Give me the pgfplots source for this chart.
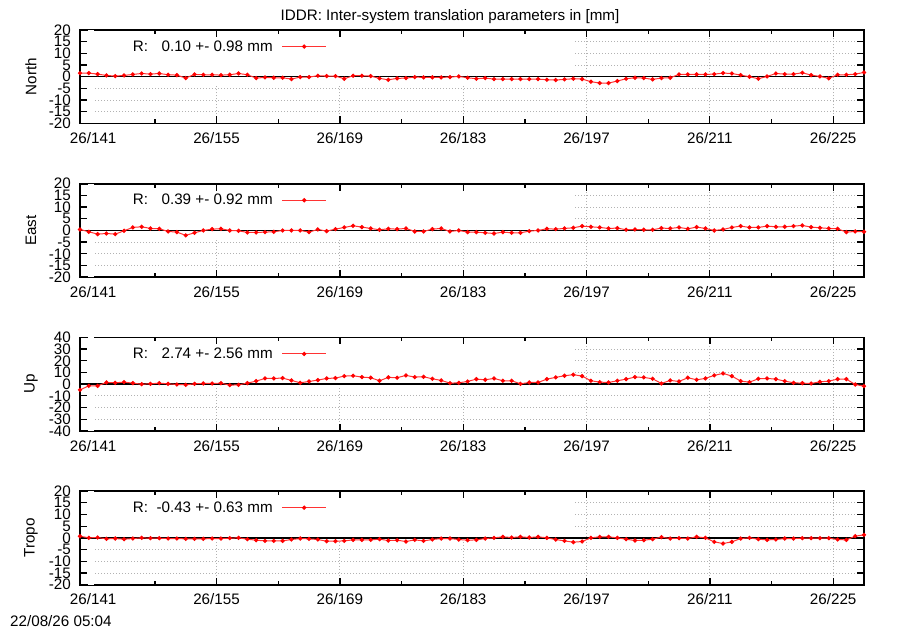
\documentclass[border=0pt]{standalone}
\usepackage{fontspec}
\setmainfont{Liberation Sans}
\usepackage{pgfplots}
\pgfplotsset{compat=1.18}
\usepackage{pgfplotstable}

\pgfplotstableread{
x N E U T
139.5 1.56 0.43 -4.9 0.71
140.5 1.56 -0.57 -1.44 0
141.5 1.13 -1.57 -1.44 0.14
142.5 0.57 -1.3 1.44 -0.43
143.5 0.28 -1.57 1.15 -0.29
144.5 0.57 -0.14 1.73 -0.57
145.5 1.0 1.3 0.86 -0.29
146.5 1.4 1.57 0 0
147.5 1.13 0.86 0.29 -0.14
148.5 1.4 0.71 0.86 -0.14
149.5 0.85 -0.43 0.29 -0.29
150.5 0.7 -0.71 -0.29 -0.29
151.5 -0.57 -2.1 -0.58 -0.43
152.5 1.0 -1.0 0.29 -0.43
153.5 0.85 0 0.58 -0.43
154.5 0.85 0.57 0.58 -0.29
155.5 0.7 0.71 0.86 -0.29
156.5 0.85 0 -0.86 -0.14
157.5 1.4 -0.14 -0.58 0
158.5 0.85 -0.86 0.86 -0.57
159.5 -0.57 -0.86 2.6 -1.0
160.5 -0.28 -0.71 4.9 -1.29
161.5 -0.43 -0.57 4.9 -1.29
162.5 -0.43 0 5.2 -1.29
163.5 -1.0 0 3.2 -0.71
164.5 -0.14 0 1.15 -0.29
165.5 -0.14 -0.71 2.3 -0.43
166.5 0.43 0.43 3.46 -0.71
167.5 0.28 -0.29 4.9 -1.43
168.5 0.28 0.57 5.2 -1.43
169.5 -0.85 1.3 6.9 -1.29
170.5 0.43 2.0 7.2 -0.86
171.5 0.43 1.43 6.05 -0.86
172.5 0.28 0.86 5.5 -0.86
173.5 -0.7 0.29 2.9 -0.57
174.5 -1.3 0.71 5.8 -1.14
175.5 -0.7 0.57 5.5 -1.0
176.5 -0.57 0.86 7.5 -1.57
177.5 -0.14 -0.43 6.05 -0.86
178.5 -0.28 -0.43 6.3 -1.29
179.5 -0.28 0.57 4.6 -0.71
180.5 -0.28 0.86 3.2 -0.29
181.5 -0.14 -0.43 0.86 -0.29
182.5 0.14 0 1.15 -0.71
183.5 -0.43 -0.71 2.3 -1.0
184.5 -0.85 -0.71 4.3 -0.86
185.5 -0.57 -1.0 3.75 -0.29
186.5 -1.0 -1.3 4.9 0
187.5 -1.0 -0.71 2.9 0.43
188.5 -1.0 -1.0 2.9 0.14
189.5 -1.0 -1.0 0.29 0.43
190.5 -1.0 -0.29 1.44 0.14
191.5 -1.0 0 1.44 0.43
192.5 -1.28 0.71 4.3 0
193.5 -1.4 0.57 5.8 -0.71
194.5 -1.13 0.86 7.2 -1.29
195.5 -0.85 1.14 8.1 -1.86
196.5 -1.0 1.86 6.9 -1.57
197.5 -2.1 1.57 2.9 0
198.5 -2.7 1.29 1.73 0.43
199.5 -2.7 0.86 1.44 0.43
200.5 -1.84 1.0 2.9 0
201.5 -0.85 0.29 4.3 -0.57
202.5 -0.43 0.43 6.05 -1.14
203.5 -0.57 0.29 5.8 -1.0
204.5 -1.13 0.29 4.6 -0.57
205.5 -0.57 1.0 0.58 0.29
206.5 -0.43 0.86 3.2 -0.29
207.5 1.0 1.29 2.3 -0.14
208.5 1.0 0.71 5.5 -0.29
209.5 1.0 1.43 3.75 0.43
210.5 1.0 0.86 4.9 0
211.5 1.13 0 7.5 -1.71
212.5 1.56 0.43 9.2 -2.43
213.5 1.4 1.29 6.9 -1.71
214.5 0.7 1.86 2.6 -0.29
215.5 0 1.29 1.73 0
216.5 -0.85 1.29 4.6 -0.57
217.5 0.14 1.86 4.9 -0.86
218.5 1.4 1.57 4.3 -0.71
219.5 1.13 1.57 2.6 -0.29
220.5 1.13 1.86 1.15 -0.29
221.5 1.7 2.14 0.86 -0.14
222.5 0.7 1.43 0.58 -0.14
223.5 0.14 1.14 2.0 -0.14
224.5 -0.7 0.86 2.6 -0.14
225.5 0.85 0.71 4.3 -0.71
226.5 0.85 -0.71 4.3 -0.86
227.5 1.13 -0.43 -0.29 0.71
228.5 1.84 -0.57 -1.73 1.29
}\data

\newcommand\gpfont{\fontsize{15.2bp}{17bp}\selectfont}

\pgfplotsset{
  gp/.style={
    scale only axis, width=784bp, height=93.5bp,
    anchor=north west,
    xmin=139.5, xmax=228.5,
    xtick={141,155,169,183,197,211,225},
    xticklabels={26/141,26/155,26/169,26/183,26/197,26/211,26/225},
    minor xtick={148,162,176,190,204,218},
    grid=major,
    major grid style={gray!60, line width=0.8bp, dash pattern=on 1bp off 2bp},
    axis line style={line width=1.8bp},
    major tick length=7bp, minor tick length=4bp,
    tick style={black, line width=1.3bp},
    tick align=inside,
    tick label style={font=\gpfont},
    label style={font=\gpfont},
    xticklabel style={inner sep=0pt, yshift=-9bp, anchor=north},
    yticklabel style={inner sep=0pt, xshift=-9bp, anchor=east},
    ylabel style={at={(axis description cs:-0.0625,0.5)}, anchor=center, inner sep=0pt},
    legend plot pos=right,
    legend style={at={(axis description cs:0.0676,0.823)}, anchor=west, draw=none, fill=none,
      inner sep=0pt, outer sep=0pt, font=\gpfont,
      nodes={inner sep=0pt, outer sep=0pt}, /tikz/column sep=9bp},
    legend image code/.code={\draw[mark repeat=2,mark phase=2,##1] plot coordinates {(0bp,0bp) (22bp,0bp) (44bp,0bp)};},
  },
  ser/.style={red!80, line width=1bp, mark=*, mark size=1.6bp, mark options={fill=red, draw=red, solid}},
  zl/.style={black, line width=1.5bp, forget plot},
  y20/.style={ymin=-20, ymax=20, ytick={-20,-15,...,20}, yticklabels={-20,-15,-10,-5,0,5,10,15,20}},
  y40/.style={ymin=-40, ymax=40, ytick={-40,-30,...,40}, yticklabels={-40,-30,-20,-10,0,10,20,30,40}},
}

\newcommand\gpmask[1]{%
    \fill[white] (rel axis cs:0.0096,0) rectangle (rel axis cs:0.0179,1);
    \fill[white] (rel axis cs:0.0096,#1) rectangle (rel axis cs:0.629,0.92);
}

\begin{document}
\begin{tikzpicture}[font=\gpfont]
\useasboundingbox (0bp,0bp) rectangle (900bp,-630bp);
\node[anchor=base, inner sep=0pt] at (450bp,-20bp) {IDDR: Inter-system translation parameters in [mm]};
\node[anchor=base west, inner sep=0pt] at (10bp,-626.5bp) {22/08/26 05:04};

\begin{axis}[gp, y20, at={(80bp,-30bp)}, ylabel={North}]
\gpmask{0.40}
\addplot[zl] coordinates {(139.5,0) (228.5,0)};
\addplot[ser] table[x=x, y=N]{\data};
\addlegendentry{R:\makebox[43bp][r]{0.10} +- 0.98 mm}
\end{axis}

\begin{axis}[gp, y20, at={(80bp,-183.7bp)}, ylabel={East}]
\gpmask{0.415}
\addplot[zl] coordinates {(139.5,0) (228.5,0)};
\addplot[ser] table[x=x, y=E]{\data};
\addlegendentry{R:\makebox[43bp][r]{0.39} +- 0.92 mm}
\end{axis}

\begin{axis}[gp, y40, at={(80bp,-337.4bp)}, ylabel={Up}]
\gpmask{0.46}
\addplot[zl] coordinates {(139.5,0) (228.5,0)};
\addplot[ser] table[x=x, y=U]{\data};
\addlegendentry{R:\makebox[43bp][r]{2.74} +- 2.56 mm}
\end{axis}

\begin{axis}[gp, y20, at={(80bp,-491.1bp)}, ylabel={Tropo}]
\gpmask{0.46}
\addplot[zl] coordinates {(139.5,0) (228.5,0)};
\addplot[ser] table[x=x, y=T]{\data};
\addlegendentry{R:\makebox[43bp][r]{-0.43} +- 0.63 mm}
\end{axis}
\end{tikzpicture}
\end{document}
